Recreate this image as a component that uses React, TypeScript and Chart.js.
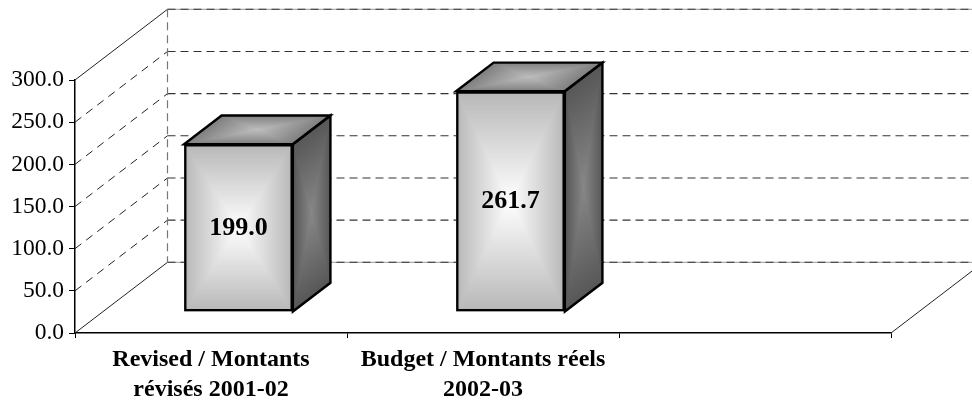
import React, { useEffect, useRef } from "react";
import { Chart, registerables } from "chart.js";

Chart.register(...registerables);

const categories: (string | string[])[] = [
  ["Revised / Montants", "révisés 2001-02"],
  ["Budget / Montants réels", "2002-03"],
  "",
];
const budgetValues: (number | null)[] = [199.0, 261.7, null];
const yMax = 300;
const yStep = 50;

const WALL_DX = 92.5;
const WALL_DY = -70.7;
const BAR_FRONT = 0.297;
const BAR_DEPTH = 0.406;
const FONT = "'Liberation Serif'";

type P = [number, number];

function path(ctx: CanvasRenderingContext2D, pts: P[]) {
  ctx.beginPath();
  pts.forEach((p, i) => (i ? ctx.lineTo(p[0], p[1]) : ctx.moveTo(p[0], p[1])));
  ctx.closePath();
}

function shade(ctx: CanvasRenderingContext2D, pts: P[], edge: number, mid: number) {
  const cx = pts.reduce((s, p) => s + p[0], 0) / pts.length;
  const cy = pts.reduce((s, p) => s + p[1], 0) / pts.length;
  const steps = 48;
  for (let i = 0; i < steps; i++) {
    const t = 1 - i / steps;
    const g = Math.round(mid + (edge - mid) * t);
    ctx.fillStyle = `rgb(${g},${g},${g})`;
    path(ctx, pts.map((p) => [cx + (p[0] - cx) * t, cy + (p[1] - cy) * t] as P));
    ctx.fill();
  }
}

function line(ctx: CanvasRenderingContext2D, a: P, b: P, color: string, width: number, dash: number[] = []) {
  ctx.save();
  ctx.strokeStyle = color;
  ctx.lineWidth = width;
  ctx.setLineDash(dash);
  ctx.beginPath();
  ctx.moveTo(a[0], a[1]);
  ctx.lineTo(b[0], b[1]);
  ctx.stroke();
  ctx.restore();
}

const box3d = {
  id: "box3d",
  beforeDatasetsDraw(chart: any) {
    const { ctx, scales, chartArea } = chart;
    const y = scales.y;
    const L = chartArea.left;
    const R = chartArea.right;
    ctx.save();
    for (let v = 0; v <= yMax; v += yStep) {
      const py = y.getPixelForValue(v);
      const edge = v === 0 || v === yMax;
      const back: P = [L + WALL_DX, py + WALL_DY];
      line(ctx, [L, py], back, "#222", 1, edge ? [] : [8, 6]);
      if (edge) line(ctx, back, [R + WALL_DX, py + WALL_DY], "#9a9a9a", 1);
      line(ctx, back, [R + WALL_DX, py + WALL_DY], "#333", 1.1, [8, 5]);
    }
    line(ctx, [L + WALL_DX, y.getPixelForValue(yMax) + WALL_DY], [L + WALL_DX, y.getPixelForValue(0) + WALL_DY], "#777", 1.2, [8, 5]);
    line(ctx, [R, y.getPixelForValue(0)], [R + WALL_DX, y.getPixelForValue(0) + WALL_DY], "#222", 1);

    const sx = WALL_DX * BAR_FRONT;
    const sy = WALL_DY * BAR_FRONT;
    const dx = WALL_DX * BAR_DEPTH;
    const dy = WALL_DY * BAR_DEPTH;
    const meta = chart.getDatasetMeta(0);
    meta.data.forEach((el: any, i: number) => {
      if (budgetValues[i] == null) return;
      const p = el.getProps(["x", "y", "base", "width"], true);
      const l = p.x - p.width / 2 + sx;
      const r = p.x + p.width / 2 + sx;
      const t = p.y + sy;
      const b = p.base + sy;
      const front: P[] = [[l, t], [r, t], [r, b], [l, b]];
      const top: P[] = [[l, t], [l + dx, t + dy], [r + dx, t + dy], [r, t]];
      const side: P[] = [[r, t], [r + dx, t + dy], [r + dx, b + dy], [r, b]];
      shade(ctx, side, 88, 136);
      shade(ctx, top, 128, 190);
      shade(ctx, front, 184, 255);
      ctx.strokeStyle = "#000";
      ctx.lineWidth = 2.4;
      ctx.lineJoin = "miter";
      path(ctx, top);
      ctx.stroke();
      path(ctx, side);
      ctx.stroke();
    });
    ctx.restore();
    ctx.save();
    ctx.translate(sx, sy);
  },
  afterDatasetsDraw(chart: any) {
    const { ctx } = chart;
    ctx.restore();
    const sx = WALL_DX * BAR_FRONT;
    const sy = WALL_DY * BAR_FRONT;
    ctx.save();
    ctx.font = `bold 26px ${FONT}`;
    ctx.fillStyle = "#000";
    ctx.textAlign = "center";
    ctx.textBaseline = "middle";
    chart.getDatasetMeta(0).data.forEach((el: any, i: number) => {
      const v = budgetValues[i];
      if (v == null) return;
      const p = el.getProps(["x", "y", "base"], true);
      ctx.fillText(v.toFixed(1), p.x + sx, (p.y + p.base) / 2 + sy);
    });
    ctx.restore();
  },
};

export default function App() {
  const ref = useRef<HTMLCanvasElement>(null);
  useEffect(() => {
    const chart = new Chart(ref.current!, {
      type: "bar",
      data: {
        labels: categories as any,
        datasets: [
          {
            data: budgetValues as any,
            backgroundColor: "rgba(0,0,0,0)",
            borderColor: "#000",
            borderWidth: 2.4,
            borderSkipped: false,
            categoryPercentage: 1,
            barPercentage: 0.4,
          },
        ],
      },
      options: {
        responsive: false,
        animation: false,
        devicePixelRatio: 1,
        layout: { padding: { left: 0, top: 80, right: 81, bottom: 0 } },
        plugins: { legend: { display: false }, tooltip: { enabled: false } },
        scales: {
          x: {
            grid: { drawOnChartArea: false, drawTicks: true, tickLength: 5, color: "#000" },
            border: { color: "#000", width: 1.5 },
            afterFit: (s: any) => { s.height = 71; },
            ticks: {
              color: "#000",
              autoSkip: false,
              maxRotation: 0,
              padding: 7,
              font: { family: FONT, size: 24, weight: "bold", lineHeight: 1.25 },
            },
          },
          y: {
            min: 0,
            max: yMax,
            grid: { drawOnChartArea: false, drawTicks: true, tickLength: 6, color: "#000" },
            border: { color: "#000", width: 1.5 },
            afterFit: (s: any) => { s.width = 75; },
            ticks: {
              color: "#000",
              stepSize: yStep,
              padding: 5,
              font: { family: FONT, size: 23.5 },
              callback: (v: any) => Number(v).toFixed(1),
            },
          },
        },
      },
      plugins: [box3d],
    } as any);
    return () => chart.destroy();
  }, []);
  return (
    <div style={{ position: "fixed", left: 0, top: 0, width: 972, height: 404, background: "#fff" }}>
      <canvas ref={ref} width={972} height={404} style={{ display: "block" }} />
    </div>
  );
}
